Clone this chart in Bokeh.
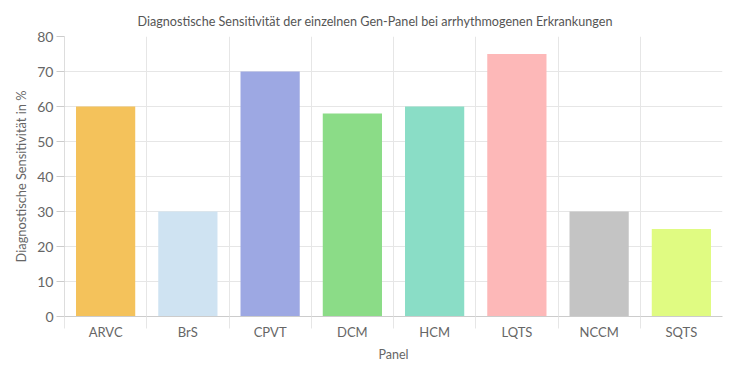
from bokeh.plotting import figure
from bokeh.models import Range1d, FixedTicker, ColumnDataSource
from bokeh.embed import file_html
from bokeh.resources import INLINE

categories = ["ARVC", "BrS", "CPVT", "DCM", "HCM", "LQTS", "NCCM", "SQTS"]
values = [60, 30, 70, 58, 60, 75, 30, 25]
colors = ["#F4C25B", "#CFE3F2", "#9DA8E3", "#8BDC87", "#8ADDC6", "#FDB8B8", "#C4C4C4", "#E0FB82"]
y_ticks = [0, 10, 20, 30, 40, 50, 60, 70, 80]
title_text = "Diagnostische Sensitivität der einzelnen Gen-Panel bei arrhythmogenen Erkrankungen"
y_label = "Diagnostische Sensitivität in %"
x_label = "Panel"

FONT = "Lato"
TXT = "#666666"

xpos = [i + 0.5 for i in range(len(categories))]
src = ColumnDataSource(dict(x=xpos, top=values, color=colors, cat=categories))

p = figure(width=735, height=363, output_backend="svg", toolbar_location=None,
           x_range=Range1d(0, len(categories)), y_range=Range1d(0, 80),
           frame_width=658, frame_height=280,
           min_border_left=64, min_border_right=13, min_border_top=36, min_border_bottom=47)

p.vbar(x="x", top="top", bottom=0, width=0.72, fill_color="color", line_color=None, source=src)

p.title.text = title_text
p.title.align = "left"
p.title.offset = 73
p.title.standoff = 16
p.title.text_font = FONT
p.title.text_font_size = "12.6px"
p.title.text_font_style = "normal"
p.title.text_color = "#555555"

p.outline_line_color = None

# x axis
xt = FixedTicker(ticks=xpos, minor_ticks=list(range(len(categories))))
p.xaxis.ticker = xt
p.xaxis.major_label_overrides = {x: c for x, c in zip(xpos, categories)}
p.xaxis.major_tick_out = 0
p.xaxis.major_tick_in = 0
p.xaxis.minor_tick_out = 12
p.xaxis.minor_tick_in = 0
p.xaxis.minor_tick_line_color = "#e6e6e6"
p.xaxis.axis_line_color = "#cccccc"
p.xaxis.major_label_standoff = -5
p.xaxis.major_label_text_font = FONT
p.xaxis.major_label_text_font_size = "13px"
p.xaxis.major_label_text_color = TXT
p.xaxis.axis_label = x_label
p.xaxis.axis_label_text_font = FONT
p.xaxis.axis_label_text_font_size = "12.5px"
p.xaxis.axis_label_text_font_style = "normal"
p.xaxis.axis_label_text_color = TXT
p.xaxis.axis_label_standoff = 4

p.xgrid.ticker = FixedTicker(ticks=list(range(len(categories))))
p.xgrid.grid_line_color = "#e6e6e6"

# y axis
p.yaxis.ticker = FixedTicker(ticks=y_ticks)
p.yaxis.major_tick_out = 8
p.yaxis.major_tick_in = 0
p.yaxis.minor_tick_line_color = None
p.yaxis.major_tick_line_color = "#cccccc"
p.yaxis.axis_line_color = "#dddddd"
p.yaxis.major_label_standoff = 3
p.yaxis.major_label_text_font = FONT
p.yaxis.major_label_text_font_size = "14px"
p.yaxis.major_label_text_color = TXT
p.yaxis.axis_label = y_label
p.yaxis.axis_label_text_font = FONT
p.yaxis.axis_label_text_font_size = "12.8px"
p.yaxis.axis_label_text_font_style = "normal"
p.yaxis.axis_label_text_color = TXT
p.yaxis.axis_label_standoff = 5

p.ygrid.ticker = FixedTicker(ticks=y_ticks[:-1])
p.ygrid.grid_line_color = "#e6e6e6"

open("out.html", "w").write(file_html(p, INLINE))
